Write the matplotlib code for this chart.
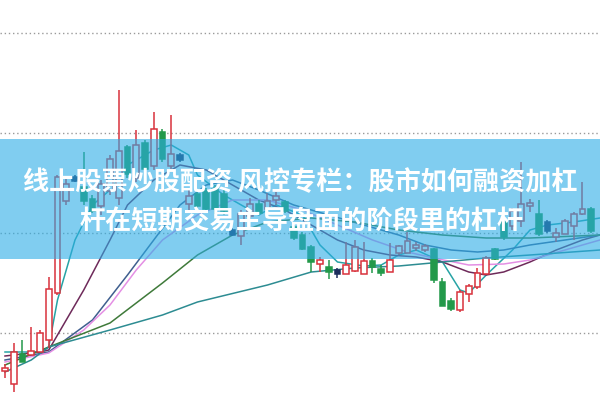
import matplotlib
matplotlib.use("Agg")
import matplotlib.pyplot as plt
from matplotlib.patches import Rectangle
import numpy as np

# ── Candles (open / high / low / close) ──────────────────────────────────────
opens  = [6.3, 5.0, 7.8, 7.9, 8.2, 9.4, 14.1, 23.3, 25.5, 24.5,
          23.3, 22.8, 24.3, 23.6, 28.5, 25.6, 28.9, 26.8, 30.0, 26.8,
          27.7, 23.0, 23.8, 24.1, 24.3, 23.8, 20.2, 19.8, 21.8, 22.8,
          22.5, 23.4, 23.0, 20.5, 19.7, 18.5, 17.0, 16.5, 16.2, 16.0,
          16.3, 16.0, 17.1, 16.3, 16.2, 18.1, 18.1, 18.6, 18.4, 18.3,
          15.0, 13.1, 12.4, 14.0, 14.7, 16.0, 18.3, 21.0, 20.8, 21.3,
          22.8, 21.8, 21.0, 19.7, 20.0, 20.8, 22.0, 22.3]
highs  = [6.9, 9.0, 9.3, 10.6, 10.3, 15.6, 25.8, 25.5, 25.8, 28.1,
          23.8, 25.3, 27.8, 34.3, 28.8, 30.3, 29.3, 32.1, 30.4, 31.8,
          28.0, 24.5, 24.3, 24.5, 24.8, 24.3, 20.5, 22.3, 23.5, 23.3,
          24.0, 24.1, 23.3, 20.8, 20.1, 18.8, 17.6, 17.3, 16.5, 19.1,
          19.3, 19.1, 17.5, 16.8, 19.0, 18.8, 20.1, 19.1, 18.9, 18.5,
          15.5, 13.5, 14.3, 14.9, 16.5, 17.7, 18.5, 21.8, 22.5, 27.1,
          23.4, 23.3, 21.3, 20.5, 21.4, 22.1, 25.1, 22.6]
lows   = [5.5, 4.1, 7.1, 7.8, 8.1, 8.5, 13.8, 22.8, 25.1, 22.8,
          22.0, 21.8, 23.8, 22.8, 25.5, 25.1, 26.1, 26.3, 27.1, 26.1,
          27.1, 22.1, 22.3, 22.1, 21.9, 21.8, 19.7, 18.8, 21.3, 21.8,
          21.8, 22.8, 22.0, 19.3, 18.3, 16.1, 16.1, 15.4, 15.5, 15.9,
          16.1, 15.9, 16.0, 15.7, 16.1, 17.8, 18.0, 18.2, 18.1, 15.0,
          12.7, 12.2, 12.1, 13.1, 14.4, 15.8, 17.3, 19.3, 20.3, 20.6,
          22.1, 19.7, 20.0, 19.1, 19.9, 19.3, 21.8, 20.0]
closes = [6.4, 8.0, 7.2, 8.1, 9.9, 14.3, 25.5, 24.8, 25.3, 23.3,
          22.3, 24.8, 27.3, 28.1, 26.0, 28.7, 26.5, 30.3, 27.5, 27.8,
          27.4, 23.6, 22.8, 22.5, 22.5, 22.3, 19.9, 21.8, 22.8, 22.1,
          23.1, 23.6, 22.3, 19.6, 18.5, 17.2, 17.2, 16.2, 16.0, 16.7,
          18.5, 17.1, 16.7, 16.1, 17.2, 18.6, 19.1, 18.7, 18.6, 15.4,
          12.8, 12.5, 14.0, 14.6, 15.9, 17.4, 17.5, 19.7, 22.1, 22.8,
          22.9, 20.0, 20.3, 19.9, 21.1, 21.8, 22.3, 20.3]
dark_days = [8, 20, 26, 38, 62]

# ── Moving averages (sampled at candle indices) ──────────────────────────────
ma5_idx  = [0, 4, 5, 6, 8, 10, 12, 14, 17, 19, 21, 22, 25, 27, 29, 31, 34, 36,
            38, 41, 43, 45, 47, 50, 52, 53, 55, 58, 60, 62, 65, 68]
ma5_val  = [8.1, 8.1, 8.6, 13.3, 19.3, 22.8, 24.3, 26.8, 28.3, 28.8, 27.8, 25.8,
            23.8, 22.8, 21.8, 22.8, 21.8, 18.8, 17.1, 16.7, 16.8, 17.8, 18.3,
            17.1, 14.3, 14.0, 15.8, 18.3, 20.3, 20.8, 21.1, 21.5]
ma10_idx = [0, 4, 5, 7, 9, 12, 14, 17, 20, 23, 26, 29, 32, 35, 38, 41, 44, 47,
            50, 53, 55, 57, 60, 63, 66, 68]
ma10_val = [7.7, 8.1, 8.3, 11.3, 14.3, 19.3, 22.8, 25.3, 26.8, 26.3, 24.8, 23.3,
            22.3, 20.8, 19.3, 18.3, 17.8, 17.6, 17.1, 16.1, 15.8, 16.1, 17.1,
            18.3, 19.3, 19.8]
ma20_idx = [0, 5, 10, 14, 17, 20, 23, 26, 29, 33, 37, 41, 45, 48, 51, 54, 57,
            60, 64, 68]
ma20_val = [7.3, 8.1, 11.3, 15.8, 19.3, 22.8, 24.8, 25.3, 24.3, 22.8, 21.8,
            20.8, 19.8, 18.8, 18.3, 18.1, 18.3, 18.8, 19.3, 19.8]
ma30_idx = [0, 5, 9, 12, 15, 18, 22, 26, 30, 34, 38, 42, 46, 49, 53, 57, 60,
            64, 68]
ma30_val = [7.1, 8.0, 10.3, 12.8, 16.3, 19.3, 21.8, 23.3, 23.3, 22.3, 20.8,
            19.3, 18.1, 17.5, 16.8, 16.9, 17.3, 18.3, 19.3]
ma60_idx = [0, 5, 12, 18, 22, 26, 30, 35, 40, 45, 50, 55, 60, 68]
ma60_val = [6.8, 8.6, 11.0, 15.0, 17.8, 19.8, 21.1, 21.5, 21.1, 20.3, 19.8,
            19.5, 19.5, 19.8]
ma120_idx = [0, 3, 5, 12, 18, 22, 30, 35, 40, 45, 50, 55, 60, 68]
ma120_val = [6.1, 7.3, 8.6, 10.3, 11.8, 13.1, 14.8, 16.1, 16.5, 16.7, 17.1,
             17.5, 17.8, 18.3]

grid_levels = [10, 20, 30, 40]
title_lines = ["线上股票炒股配资 风控专栏：股市如何融资加杠",
               "杆在短期交易主导盘面的阶段里的杠杆"]

UP, DOWN, FLAT = "#d8323c", "#23994a", "#1c2c5c"
CJK = ["Noto Sans CJK SC", "DejaVu Sans"]

fig = plt.figure(figsize=(6, 4), dpi=100)
ax = fig.add_axes([0, 0, 1, 1])
ax.set_xlim(-0.571, 68.0)
ax.set_ylim(3.3, 43.3)
ax.axis("off")

for g in grid_levels:
    ax.axhline(g, color="#9a9a9a", lw=1, ls=(0, (1, 2)), zorder=1)

x = np.arange(len(opens))
o, h, l, c = map(np.array, (opens, highs, lows, closes))
cols = np.where(c > o, UP, DOWN).astype(object)
for d in dark_days:
    cols[d] = FLAT
ax.vlines(x, l, h, colors=list(cols), lw=1.1, zorder=3)
up = c > o
faces = np.where(up, "white", cols).astype(object)
ax.bar(x, np.abs(c - o) + 0.15, bottom=np.minimum(o, c) - 0.075, width=0.68,
       color=list(faces), edgecolor=list(cols), linewidth=1.1, zorder=4)

lines = [(ma5_idx, ma5_val, "#27a3a5"), (ma10_idx, ma10_val, "#6e2a5a"),
         (ma20_idx, ma20_val, "#3f5f8f"), (ma30_idx, ma30_val, "#e48fe4"),
         (ma60_idx, ma60_val, "#3f7a3a"), (ma120_idx, ma120_val, "#2d8c92")]
for idx, val, col in lines:
    ax.plot(idx, val, color=col, lw=1.1, zorder=2)

# translucent banner with the headline
fig.add_artist(Rectangle((0, 1 - 259 / 400), 1, 120 / 400, transform=fig.transFigure,
                         facecolor=(43 / 255, 173 / 255, 230 / 255), alpha=0.6,
                         edgecolor="none", zorder=5))
fig.text(0.5, 1 - 183 / 400, title_lines[0], ha="center", va="center",
         color="white", fontsize=18.8, fontweight="bold", family=CJK, zorder=6)
fig.text(0.502, 1 - 221 / 400, title_lines[1], ha="center", va="center",
         color="white", fontsize=18.8, fontweight="bold", family=CJK, zorder=6)

fig.savefig("out.png", dpi=100)
